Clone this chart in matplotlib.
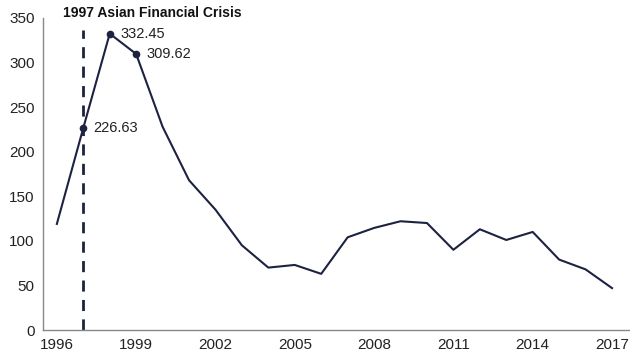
import matplotlib
matplotlib.use("Agg")
import matplotlib.pyplot as plt

plt.rcParams["font.family"] = ["Liberation Sans", "DejaVu Sans"]

years = list(range(1996, 2018))
values = [119, 226.63, 332.45, 309.62, 228, 168, 135, 95, 70, 73, 63,
          104, 114.5, 122, 120, 90, 113, 101, 110, 79, 68, 47]
labelled_years = [1997, 1998, 1999]
labelled_text = ["226.63", "332.45", "309.62"]
crisis_year = 1997
title = "1997 Asian Financial Crisis"

line_color = "#1c2240"

fig = plt.figure(figsize=(6.3, 3.57), dpi=100)
ax = fig.add_axes([0.068, 0.0756, 0.932, 0.874])

ax.plot(years, values, color=line_color, lw=1.5)

for yr, txt in zip(labelled_years, labelled_text):
    v = values[years.index(yr)]
    ax.plot(yr, v, "o", color=line_color, ms=4.5)
    ax.annotate(txt, (yr, v), xytext=(7.5, 0), textcoords="offset points",
                fontsize=10.5, va="center", ha="left", color="#222222")

ax.vlines(crisis_year, 0, 337, colors=line_color, linestyles=(0, (4, 3)), lw=2)
ax.text(crisis_year - 0.75, 356, title, fontsize=10, fontweight="bold",
        ha="left", va="center", color="#111111", clip_on=False)

ax.set_xlim(1995.47, 2017.68)
ax.set_ylim(0, 350)
ax.set_xticks(range(1996, 2018, 3))
ax.set_yticks(range(0, 351, 50))
ax.tick_params(length=0, labelsize=11, colors="#222222", pad=6)
for s in ["top", "right"]:
    ax.spines[s].set_visible(False)
for s in ["left", "bottom"]:
    ax.spines[s].set_color("#888888")
    ax.spines[s].set_linewidth(1)

fig.savefig("out.png", dpi=100)
